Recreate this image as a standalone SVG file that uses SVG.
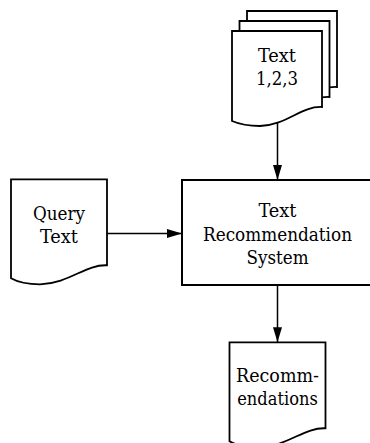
<svg xmlns="http://www.w3.org/2000/svg" xmlns:xlink="http://www.w3.org/1999/xlink" width="370" height="443" viewBox="0 0 370 443">
  <style>
    .shape { fill: #ffffff; stroke: #000000; stroke-width: 1.8; stroke-linejoin: miter; }
    .box { fill: #ffffff; stroke: #000000; stroke-width: 2; }
    .edge { fill: none; stroke: #000000; stroke-width: 1.5; }
    .label { font-family: "DejaVu Serif Condensed", "DejaVu Serif", "Liberation Serif", serif; font-stretch: condensed; font-size: 18.5px; fill: #000000; text-anchor: middle; }
  </style>
  <defs>
    <!-- document outline with a wavy bottom edge -->
    <path id="doc" d="M0,0 H96 V86 C74,85 59,104 29,105 C17,105 7,103 0,99 Z"/>
    <path id="docSmall" d="M0,0 H90 V76 C69,75 55,94 28,95 C17,95 7,93 0,90 Z"/>
    <marker id="arrow" markerUnits="userSpaceOnUse" markerWidth="15" markerHeight="10" refX="15" refY="4.5" orient="auto">
      <path d="M0,0 L15,4.5 L0,9 Z" fill="#000000"/>
    </marker>
  </defs>

  <!-- connectors -->
  <g id="connectors">
    <line class="edge" x1="277.5" y1="118" x2="277.5" y2="180" marker-end="url(#arrow)"/>
    <line class="edge" x1="107" y1="233.5" x2="182" y2="233.5" marker-end="url(#arrow)"/>
    <line class="edge" x1="277.5" y1="285" x2="277.5" y2="342.3" marker-end="url(#arrow)"/>
  </g>

  <!-- stacked documents -->
  <g id="texts">
    <use xlink:href="#docSmall" class="shape" transform="translate(247,11)"/>
    <use xlink:href="#docSmall" class="shape" transform="translate(239.5,21)"/>
    <use xlink:href="#docSmall" class="shape" transform="translate(232,31)"/>
    <text class="label" x="277" y="61.7" textLength="38" lengthAdjust="spacingAndGlyphs">Text</text>
    <text class="label" x="277" y="85" textLength="42" lengthAdjust="spacingAndGlyphs">1,2,3</text>
  </g>

  <g id="query">
    <use xlink:href="#doc" class="shape" transform="translate(11,179.3)"/>
    <text class="label" x="59" y="220" textLength="52" lengthAdjust="spacingAndGlyphs">Query</text>
    <text class="label" x="59" y="243" textLength="38" lengthAdjust="spacingAndGlyphs">Text</text>
  </g>

  <g id="system">
    <rect class="box" x="182" y="180" width="192" height="105"/>
    <text class="label" x="277.5" y="216.7" textLength="38" lengthAdjust="spacingAndGlyphs">Text</text>
    <text class="label" x="277.5" y="241" textLength="149" lengthAdjust="spacingAndGlyphs">Recommendation</text>
    <text class="label" x="277.5" y="264.3" textLength="62" lengthAdjust="spacingAndGlyphs">System</text>
  </g>

  <g id="recommendations">
    <use xlink:href="#doc" class="shape" transform="translate(229.5,342.3)"/>
    <text class="label" x="277.5" y="381.7" textLength="83" lengthAdjust="spacingAndGlyphs">Recomm-</text>
    <text class="label" x="277.5" y="405" textLength="80.5" lengthAdjust="spacingAndGlyphs">endations</text>
  </g>
</svg>
